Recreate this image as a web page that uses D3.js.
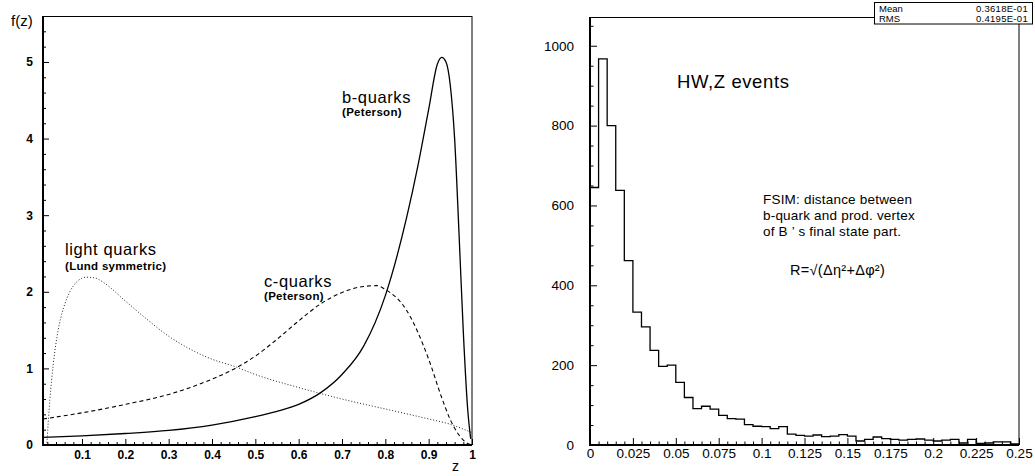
<!DOCTYPE html>
<html><head><meta charset="utf-8">
<script src="https://cdn.jsdelivr.net/npm/d3@7"></script>
<style>body{margin:0;background:#fff} svg{display:block}</style>
</head><body>
<svg id="c" width="1035" height="476"></svg>
<script>
// ---- Left panel data: fragmentation functions f(z) ----
const bZ = [0.01,0.1,0.2,0.3,0.4,0.5,0.55,0.6,0.65,0.7,0.75,0.8,0.85,0.875,0.9,0.92,0.93,0.94,0.95,0.96,0.97,0.98,0.99,0.997];
const bF = [0.10,0.12,0.15,0.19,0.26,0.37,0.44,0.53,0.68,0.92,1.29,1.95,2.99,3.64,4.38,4.97,5.06,5.0,4.69,3.99,2.77,1.47,0.47,0.08];
const cZ = [0.01,0.1,0.2,0.3,0.4,0.45,0.5,0.55,0.6,0.65,0.7,0.75,0.78,0.8,0.85,0.9,0.93,0.95,0.97,0.99,1.0];
const cF = [0.34,0.42,0.53,0.66,0.86,0.99,1.16,1.38,1.62,1.84,1.99,2.07,2.08,2.03,1.75,1.12,0.62,0.33,0.13,0.02,0];
const lZ = [0.019,0.026,0.034,0.045,0.057,0.072,0.09,0.11,0.13,0.15,0.2,0.25,0.3,0.35,0.4,0.45,0.5,0.6,0.7,0.8,0.9,0.95,1.0];
const lF = [0.03,0.6,1.07,1.5,1.78,2.0,2.14,2.19,2.18,2.12,1.88,1.64,1.42,1.25,1.12,1.03,0.92,0.75,0.6,0.47,0.34,0.27,0.16];
const leftXTicks = [0.1,0.2,0.3,0.4,0.5,0.6,0.7,0.8,0.9,1];
const leftXLabels = ["0.1","0.2","0.3","0.4","0.5","0.6","0.7","0.8","0.9","1"];
const leftYTicks = [0,1,2,3,4,5];
const leftYLabels = ["0","1","2","3","4","5"];

// ---- Right panel data: histogram of R ----
const binWidth = 0.005;
const counts = [645,967,800,638,462,333,296,237,197,200,157,119,91,97,90,74,66,65,51,47,46,41,46,27,24,22,25,21,22,26,22,10,14,20,16,14,12,14,15,12,10,12,14,5,14,4,5,8,8,3];
const rightXTicks = [0,0.025,0.05,0.075,0.1,0.125,0.15,0.175,0.2,0.225,0.25];
const rightXLabels = ["0","0.025","0.05","0.075","0.1","0.125","0.15","0.175","0.2","0.225","0.25"];
const rightYTicks = [0,200,400,600,800,1000];
const rightYLabels = ["0","200","400","600","800","1000"];
const statNames = ["Mean","RMS"];
const statValues = ["0.3618E-01","0.4195E-01"];

const svg = d3.select("#c");
const FONT = "Liberation Sans, Arial, sans-serif";

// ================= LEFT PANEL =================
const xL = d3.scaleLinear([0.01, 1], [43, 472]);
const yL = d3.scaleLinear([0, 5.6], [445, 16]);
const gL = svg.append("g");

gL.append("line").attr("x1",43).attr("x2",472).attr("y1",16.5).attr("y2",16.5).attr("stroke","#000").attr("stroke-width",1);
gL.append("line").attr("x1",472).attr("x2",472).attr("y1",16).attr("y2",445).attr("stroke","#000").attr("stroke-width",1);

const lxMinor = d3.range(1,50).map(i=>i*0.02).filter(v=>Math.abs(v*10-Math.round(v*10))>1e-6);
gL.append("g").attr("transform","translate(0,445)")
  .call(d3.axisBottom(xL).tickValues(lxMinor).tickSize(-3).tickFormat(""))
  .call(g=>g.select(".domain").remove());
const lyMinor = d3.range(1,28).map(i=>i*0.2).filter(v=>Math.abs(v-Math.round(v))>1e-6);
gL.append("g").attr("transform","translate(43,0)")
  .call(d3.axisLeft(yL).tickValues(lyMinor).tickSize(-3).tickFormat(""))
  .call(g=>g.select(".domain").remove());
gL.append("g").attr("transform","translate(0,445)")
  .call(d3.axisBottom(xL).tickValues(leftXTicks).tickSize(-6).tickPadding(5)
    .tickFormat((d,i)=>leftXLabels[i]))
  .call(g=>g.select(".domain").remove())
  .call(g=>g.selectAll("text").attr("font-family",FONT).attr("font-weight","bold").attr("font-size",12).attr("fill","#000"));
gL.append("g").attr("transform","translate(43,0)")
  .call(d3.axisLeft(yL).tickValues(leftYTicks).tickSize(-6).tickPadding(10)
    .tickFormat((d,i)=>leftYLabels[i]))
  .call(g=>g.select(".domain").remove())
  .call(g=>g.selectAll("text").attr("font-family",FONT).attr("font-weight","bold").attr("font-size",12).attr("fill","#000"));
gL.selectAll(".tick line").attr("stroke","#000");
gL.append("line").attr("x1",43).attr("x2",43).attr("y1",16).attr("y2",446).attr("stroke","#000").attr("stroke-width",2);
gL.append("line").attr("x1",42).attr("x2",472).attr("y1",445).attr("y2",445).attr("stroke","#000").attr("stroke-width",2);

const lineL = d3.line().x(d=>xL(d[0])).y(d=>yL(d[1])).curve(d3.curveMonotoneX);
gL.append("path").attr("d", lineL(lZ.map((z,i)=>[z,lF[i]])))
  .attr("fill","none").attr("stroke","#222").attr("stroke-width",1).attr("stroke-dasharray","1,2");
gL.append("path").attr("d", lineL(cZ.map((z,i)=>[z,cF[i]])))
  .attr("fill","none").attr("stroke","#000").attr("stroke-width",1.1).attr("stroke-dasharray","4,3");
gL.append("path").attr("d", lineL(bZ.map((z,i)=>[z,bF[i]])))
  .attr("fill","none").attr("stroke","#000").attr("stroke-width",1.3);

function txt(g,x,y,s,size,weight,anchor,ls){
  return g.append("text").attr("x",x).attr("y",y).text(s).attr("font-family",FONT)
    .attr("font-size",size).attr("font-weight",weight||"normal").attr("text-anchor",anchor||"start")
    .attr("letter-spacing",ls||0)
    .attr("dominant-baseline","central").attr("fill","#000");
}
txt(gL,11,20,"f(z)",15);
txt(gL,452,466,"z",14);
txt(gL,342,97,"b-quarks",16.5,"normal","start",0.6);
txt(gL,342,112,"(Peterson)",11.5,"bold","start",0.3);
txt(gL,65,249,"light quarks",16.5,"normal","start",0.6);
txt(gL,65,266,"(Lund symmetric)",11.5,"bold","start",0.3);
txt(gL,264,281,"c-quarks",16.5,"normal","start",0.6);
txt(gL,264,296,"(Peterson)",11.5,"bold","start",0.3);

// ================= RIGHT PANEL =================
const xR = d3.scaleLinear([0, 0.25], [590, 1019]);
const yR = d3.scaleLinear([0, 1072], [445, 17]);
const gR = svg.append("g");

gR.append("line").attr("x1",590).attr("x2",1019).attr("y1",17.5).attr("y2",17.5).attr("stroke","#000");
gR.append("line").attr("x1",1019).attr("x2",1019).attr("y1",17).attr("y2",445).attr("stroke","#000");

const rxMinor = d3.range(1,50).map(i=>i*0.005).filter(v=>Math.abs(v/0.025-Math.round(v/0.025))>1e-6);
gR.append("g").attr("transform","translate(0,445)")
  .call(d3.axisBottom(xR).tickValues(rxMinor).tickSize(-3.5).tickFormat(""))
  .call(g=>g.select(".domain").remove());
const ryMinor = d3.range(1,22).map(i=>i*50).filter(v=>v%200!==0);
gR.append("g").attr("transform","translate(590,0)")
  .call(d3.axisLeft(yR).tickValues(ryMinor).tickSize(-3.5).tickFormat(""))
  .call(g=>g.select(".domain").remove());
gR.append("g").attr("transform","translate(0,445)")
  .call(d3.axisBottom(xR).tickValues(rightXTicks).tickSize(-7).tickPadding(3)
    .tickFormat((d,i)=>rightXLabels[i]))
  .call(g=>g.select(".domain").remove())
  .call(g=>g.selectAll("text").attr("font-family",FONT).attr("font-size",13.5).attr("fill","#000"));
gR.append("g").attr("transform","translate(590,0)")
  .call(d3.axisLeft(yR).tickValues(rightYTicks).tickSize(-7).tickPadding(16)
    .tickFormat((d,i)=>rightYLabels[i]))
  .call(g=>g.select(".domain").remove())
  .call(g=>g.selectAll("text").attr("font-family",FONT).attr("font-size",13.5).attr("fill","#000"));
gR.selectAll(".tick line").attr("stroke","#000");

const pts = [[0,0]];
counts.forEach((c,i)=>{ pts.push([i*binWidth,c]); pts.push([(i+1)*binWidth,c]); });
pts.push([counts.length*binWidth,0]);
gR.append("path").attr("d", d3.line().x(d=>xR(d[0])).y(d=>yR(d[1]))(pts))
  .attr("fill","none").attr("stroke","#000").attr("stroke-width",1.3);

gR.append("line").attr("x1",590).attr("x2",590).attr("y1",17).attr("y2",446).attr("stroke","#000").attr("stroke-width",2);
gR.append("line").attr("x1",589).attr("x2",1019).attr("y1",445).attr("y2",445).attr("stroke","#000").attr("stroke-width",2);

gR.append("rect").attr("x",874.5).attr("y",2.5).attr("width",158).attr("height",21.5)
  .attr("fill","#fff").attr("stroke","#000").attr("stroke-width",1);
statNames.forEach((n,i)=>{
  txt(gR,879,8+i*10.3,n,9.5);
  txt(gR,1028,8+i*10.3,statValues[i],9.5,"normal","end",0.3);
});

txt(gR,677,81,"HW,Z events",18.5,"normal","start",0.6);
txt(gR,763,199,"FSIM: distance between",13.5,"normal","start",0.2);
txt(gR,763,215,"b-quark and prod. vertex",13.5,"normal","start",0.2);
txt(gR,763,231,"of B ’ s final state part.",13.5,"normal","start",0.2);
txt(gR,790,270,"R=√(Δη²+Δφ²)",14.5,"normal","start",0.3);
</script>
</body></html>
